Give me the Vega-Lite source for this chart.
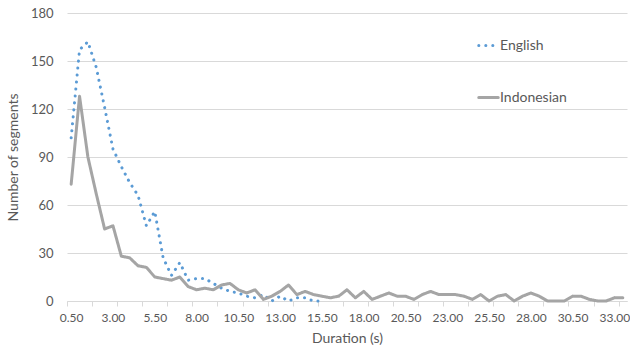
{
  "$schema": "https://vega.github.io/schema/vega-lite/v6.json",
  "width": 560,
  "height": 288,
  "autosize": "none",
  "padding": {"left": 67, "top": 13, "right": 3, "bottom": 50},
  "background": "white",
  "config": {
    "view": {"stroke": null},
    "font": "Lato"
  },
  "data": {
    "values": [
      {"duration": 0.5, "language": "English", "count": 102},
      {"duration": 1.0, "language": "English", "count": 157},
      {"duration": 1.5, "language": "English", "count": 162},
      {"duration": 2.0, "language": "English", "count": 146},
      {"duration": 2.5, "language": "English", "count": 121},
      {"duration": 3.0, "language": "English", "count": 95},
      {"duration": 3.5, "language": "English", "count": 84},
      {"duration": 4.0, "language": "English", "count": 74},
      {"duration": 4.5, "language": "English", "count": 66},
      {"duration": 5.0, "language": "English", "count": 47},
      {"duration": 5.5, "language": "English", "count": 56},
      {"duration": 6.0, "language": "English", "count": 27},
      {"duration": 6.5, "language": "English", "count": 16},
      {"duration": 7.0, "language": "English", "count": 24},
      {"duration": 7.5, "language": "English", "count": 13},
      {"duration": 8.0, "language": "English", "count": 14},
      {"duration": 8.5, "language": "English", "count": 14},
      {"duration": 9.0, "language": "English", "count": 11},
      {"duration": 9.5, "language": "English", "count": 8},
      {"duration": 10.0, "language": "English", "count": 6},
      {"duration": 10.5, "language": "English", "count": 5},
      {"duration": 11.0, "language": "English", "count": 3},
      {"duration": 11.5, "language": "English", "count": 2},
      {"duration": 12.0, "language": "English", "count": 4},
      {"duration": 12.5, "language": "English", "count": 0},
      {"duration": 13.0, "language": "English", "count": 3},
      {"duration": 13.5, "language": "English", "count": 0},
      {"duration": 14.0, "language": "English", "count": 2},
      {"duration": 14.5, "language": "English", "count": 2},
      {"duration": 15.0, "language": "English", "count": 0},
      {"duration": 15.5, "language": "English", "count": 0},
      {"duration": 0.5, "language": "Indonesian", "count": 73},
      {"duration": 1.0, "language": "Indonesian", "count": 128},
      {"duration": 1.5, "language": "Indonesian", "count": 90},
      {"duration": 2.0, "language": "Indonesian", "count": 67},
      {"duration": 2.5, "language": "Indonesian", "count": 45},
      {"duration": 3.0, "language": "Indonesian", "count": 47},
      {"duration": 3.5, "language": "Indonesian", "count": 28},
      {"duration": 4.0, "language": "Indonesian", "count": 27},
      {"duration": 4.5, "language": "Indonesian", "count": 22},
      {"duration": 5.0, "language": "Indonesian", "count": 21},
      {"duration": 5.5, "language": "Indonesian", "count": 15},
      {"duration": 6.0, "language": "Indonesian", "count": 14},
      {"duration": 6.5, "language": "Indonesian", "count": 13},
      {"duration": 7.0, "language": "Indonesian", "count": 15},
      {"duration": 7.5, "language": "Indonesian", "count": 9},
      {"duration": 8.0, "language": "Indonesian", "count": 7},
      {"duration": 8.5, "language": "Indonesian", "count": 8},
      {"duration": 9.0, "language": "Indonesian", "count": 7},
      {"duration": 9.5, "language": "Indonesian", "count": 10},
      {"duration": 10.0, "language": "Indonesian", "count": 11},
      {"duration": 10.5, "language": "Indonesian", "count": 7},
      {"duration": 11.0, "language": "Indonesian", "count": 5},
      {"duration": 11.5, "language": "Indonesian", "count": 7},
      {"duration": 12.0, "language": "Indonesian", "count": 1},
      {"duration": 12.5, "language": "Indonesian", "count": 3},
      {"duration": 13.0, "language": "Indonesian", "count": 6},
      {"duration": 13.5, "language": "Indonesian", "count": 10},
      {"duration": 14.0, "language": "Indonesian", "count": 4},
      {"duration": 14.5, "language": "Indonesian", "count": 6},
      {"duration": 15.0, "language": "Indonesian", "count": 4},
      {"duration": 15.5, "language": "Indonesian", "count": 3},
      {"duration": 16.0, "language": "Indonesian", "count": 2},
      {"duration": 16.5, "language": "Indonesian", "count": 3},
      {"duration": 17.0, "language": "Indonesian", "count": 7},
      {"duration": 17.5, "language": "Indonesian", "count": 2},
      {"duration": 18.0, "language": "Indonesian", "count": 6},
      {"duration": 18.5, "language": "Indonesian", "count": 1},
      {"duration": 19.0, "language": "Indonesian", "count": 3},
      {"duration": 19.5, "language": "Indonesian", "count": 5},
      {"duration": 20.0, "language": "Indonesian", "count": 3},
      {"duration": 20.5, "language": "Indonesian", "count": 3},
      {"duration": 21.0, "language": "Indonesian", "count": 1},
      {"duration": 21.5, "language": "Indonesian", "count": 4},
      {"duration": 22.0, "language": "Indonesian", "count": 6},
      {"duration": 22.5, "language": "Indonesian", "count": 4},
      {"duration": 23.0, "language": "Indonesian", "count": 4},
      {"duration": 23.5, "language": "Indonesian", "count": 4},
      {"duration": 24.0, "language": "Indonesian", "count": 3},
      {"duration": 24.5, "language": "Indonesian", "count": 1},
      {"duration": 25.0, "language": "Indonesian", "count": 4},
      {"duration": 25.5, "language": "Indonesian", "count": 0},
      {"duration": 26.0, "language": "Indonesian", "count": 3},
      {"duration": 26.5, "language": "Indonesian", "count": 4},
      {"duration": 27.0, "language": "Indonesian", "count": 0},
      {"duration": 27.5, "language": "Indonesian", "count": 3},
      {"duration": 28.0, "language": "Indonesian", "count": 5},
      {"duration": 28.5, "language": "Indonesian", "count": 3},
      {"duration": 29.0, "language": "Indonesian", "count": 0},
      {"duration": 29.5, "language": "Indonesian", "count": 0},
      {"duration": 30.0, "language": "Indonesian", "count": 0},
      {"duration": 30.5, "language": "Indonesian", "count": 3},
      {"duration": 31.0, "language": "Indonesian", "count": 3},
      {"duration": 31.5, "language": "Indonesian", "count": 1},
      {"duration": 32.0, "language": "Indonesian", "count": 0},
      {"duration": 32.5, "language": "Indonesian", "count": 0},
      {"duration": 33.0, "language": "Indonesian", "count": 2},
      {"duration": 33.5, "language": "Indonesian", "count": 2}
    ]
  },
  "mark": {"type": "line", "strokeWidth": 3, "strokeCap": "round", "strokeJoin": "round"},
  "encoding": {
    "x": {
      "field": "duration",
      "type": "quantitative",
      "scale": {"domain": [0.25, 33.75], "nice": false, "zero": false},
      "axis": {
        "title": "Duration (s)",
        "titleFont": "Lato",
        "titleFontSize": 14,
        "titleFontWeight": "normal",
        "titleColor": "#595959",
        "titlePadding": 8,
        "values": [0.25, 0.5, 1.75, 3, 3.25, 4.75, 5.5, 6.25, 7.75, 8, 9.25, 10.5, 10.75, 12.25, 13, 13.75, 15.25, 15.5, 16.75, 18, 18.25, 19.75, 20.5, 21.25, 22.75, 23, 24.25, 25.5, 25.75, 27.25, 28, 28.75, 30.25, 30.5, 31.75, 33, 33.25],
        "labelExpr": "(datum.value - 0.5) % 2.5 == 0 ? format(datum.value, '.2f') : ''",
        "labelFontSize": 12,
        "labelColor": "#595959",
        "labelPadding": 6,
        "labelOverlap": false,
        "labelFlush": false,
        "labelBound": false,
        "grid": false,
        "domainColor": "#d9d9d9",
        "domainWidth": 1,
        "tickColor": "#d9d9d9",
        "tickSize": 5,
        "tickOpacity": {"condition": {"test": "(datum.value - 0.25) % 1.5 == 0", "value": 1}, "value": 0}
      }
    },
    "y": {
      "field": "count",
      "type": "quantitative",
      "scale": {"domain": [0, 180], "nice": false},
      "axis": {
        "title": "Number of segments",
        "titleFont": "Lato",
        "titleFontSize": 14,
        "titleFontWeight": "normal",
        "titleColor": "#595959",
        "titlePadding": 10,
        "values": [0, 30, 60, 90, 120, 150, 180],
        "labelFontSize": 13,
        "labelColor": "#595959",
        "labelPadding": 14,
        "domain": false,
        "ticks": false,
        "grid": true,
        "gridColor": "#d9d9d9",
        "gridWidth": 1
      }
    },
    "color": {
      "field": "language",
      "type": "nominal",
      "scale": {"domain": ["English", "Indonesian"], "range": ["#5B9BD5", "#A5A5A5"]},
      "legend": {
        "title": null,
        "orient": "none",
        "legendX": 410,
        "legendY": 21,
        "symbolType": "stroke",
        "symbolSize": 380,
        "symbolStrokeWidth": 3,
        "labelFontSize": 14,
        "labelFont": "Lato",
        "labelColor": "#595959",
        "labelOffset": 0,
        "rowPadding": 33,
        "encode": {"symbols": {"update": {"strokeCap": {"value": "round"}}}}
      }
    },
    "strokeDash": {
      "field": "language",
      "type": "nominal",
      "scale": {"domain": ["English", "Indonesian"], "range": [[0.1, 6.9], [1, 0]]},
      "legend": null
    }
  }
}
